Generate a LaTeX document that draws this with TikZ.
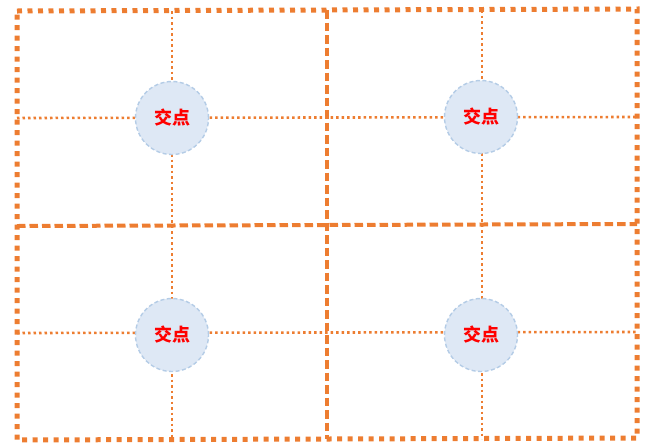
\documentclass[tikz,border=0pt]{standalone}
\usepackage{fontspec}
\newfontfamily\cjk{Noto Sans CJK SC}
\definecolor{org}{HTML}{ED7D31}
\definecolor{cfill}{HTML}{DEE8F5}
\definecolor{cline}{HTML}{B4CCE6}
\begin{document}
\begin{tikzpicture}[x=1pt,y=-1pt,
  thindot/.style={org,line width=2.6pt,dash pattern=on 2.5pt off 3pt},
  middash/.style={org,line width=4pt,dash pattern=on 8.5pt off 4pt},
  outerdot/.style={org,line width=5pt,dash pattern=on 5pt off 5.5pt},
  cross/.style={circle,minimum size=73pt,inner sep=0pt,fill=cfill,draw=cline,line width=1.4pt,dash pattern=on 4pt off 2.5pt,text=red,font=\cjk\bfseries\fontsize{18}{18}\selectfont}]
\useasboundingbox (0,0) rectangle (650,445);
\coordinate (tl) at (17,11);
\coordinate (tr) at (637,9);
\coordinate (br) at (637,438);
\coordinate (bl) at (17,440);
% thin dotted grid lines
\coordinate (v1t) at (172,11); \coordinate (v1b) at (172,440);
\coordinate (v2t) at (482,10); \coordinate (v2b) at (482,439);
\coordinate (h1l) at (17,118); \coordinate (h1r) at (637,117);
\coordinate (h2l) at (17,333); \coordinate (h2r) at (637,332);
\draw[thindot] (v1t) -- (v1b);
\draw[thindot] (v2t) -- (v2b);
\draw[thindot] (h1l) -- (h1r);
\draw[thindot] (h2l) -- (h2r);
% middle dashed lines
\coordinate (mt) at (327,10); \coordinate (mb) at (327,439);
\coordinate (ml) at (17,226); \coordinate (mr) at (637,224);
\draw[middash] (mt) -- (mb);
\draw[middash] (ml) -- (mr);
% outer border
\draw[outerdot] (tl) -- (tr) -- (br) -- (bl) -- cycle;
% intersections
\node[cross] (a) at (172,118) {交点};
\node[cross] (b) at (481,117) {交点};
\node[cross] (c) at (172,335) {交点};
\node[cross] (d) at (481,335) {交点};
\end{tikzpicture}
\end{document}
